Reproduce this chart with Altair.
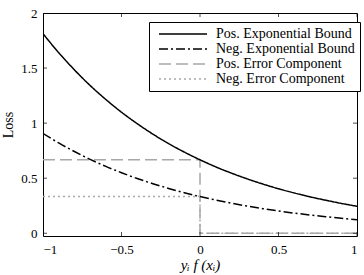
import altair as alt
import pandas as pd

# Margin values y_i f(x_i) and the two exponential loss bounds
margin = [-1.0, -0.9, -0.8, -0.7, -0.6, -0.5, -0.4, -0.3, -0.2, -0.1, 0.0,
          0.1, 0.2, 0.3, 0.4, 0.5, 0.6, 0.7, 0.8, 0.9, 1.0]
pos_bound = [1.812, 1.640, 1.484, 1.342, 1.215, 1.099, 0.995, 0.900, 0.814,
             0.737, 0.667, 0.603, 0.546, 0.494, 0.447, 0.404, 0.366, 0.331,
             0.300, 0.271, 0.245]
neg_bound = [0.906, 0.820, 0.742, 0.671, 0.607, 0.550, 0.497, 0.450, 0.407,
             0.368, 0.333, 0.302, 0.273, 0.247, 0.223, 0.202, 0.183, 0.166,
             0.150, 0.136, 0.123]

# Step-shaped error components
step_x = [-1.0, 0.0, 0.0, 1.0]
pos_error = [0.667, 0.667, 0.0, 0.0]
neg_error = [0.333, 0.333, 0.0, 0.0]

series = ["Pos. Exponential Bound", "Neg. Exponential Bound",
          "Pos. Error Component", "Neg. Error Component"]

x_ticks = [-1, -0.5, 0, 0.5, 1]
y_ticks = [0, 0.5, 1, 1.5, 2]
x_dom = [-1, 1]
y_dom = [-0.025, 2]


def frame(name, xs, ys):
    return pd.DataFrame({"series": name, "m": xs, "loss": ys,
                         "idx": list(range(len(xs)))})


curves = pd.concat([frame(series[0], margin, pos_bound),
                    frame(series[1], margin, neg_bound)])
steps = pd.concat([frame(series[2], step_x, pos_error),
                   frame(series[3], step_x, neg_error)])

FONT = "Liberation Serif"

xs = alt.Scale(domain=x_dom, nice=False, zero=False)
ys = alt.Scale(domain=y_dom, nice=False, zero=False)

enc = dict(
    x=alt.X("m:Q", scale=xs,
            axis=alt.Axis(values=x_ticks, format="~g", ticks=False, domain=False,
                          grid=False, labelFont=FONT, labelFontSize=13,
                          labelColor="black", labelPadding=7,
                          title="yᵢ f (xᵢ)", titleFont=FONT,
                          titleFontSize=15, titleFontWeight="normal",
                          titleFontStyle="italic", titleColor="black",
                          titlePadding=1)),
    y=alt.Y("loss:Q", scale=ys,
            axis=alt.Axis(values=y_ticks, format="~g", ticks=False, domain=False,
                          grid=False, labelFont=FONT, labelFontSize=13,
                          labelColor="black", labelPadding=6,
                          title="Loss", titleFont=FONT, titleFontSize=14,
                          titleFontWeight="normal", titleColor="black",
                          titlePadding=5)),
    color=alt.Color("series:N",
                    scale=alt.Scale(domain=series,
                                    range=["black", "black", "#a8a8a8", "#a8a8a8"]),
                    # a long horizontal stroke as the legend sample
                    legend=alt.Legend(title=None, orient="none", legendX=106,
                                      legendY=9, symbolType="M-6,0H6",
                                      symbolSize=64, symbolStrokeWidth=1.5,
                                      symbolFillColor="transparent",
                                      symbolOffset=22, labelOffset=26,
                                      labelFont=FONT, labelFontSize=14,
                                      labelColor="black", fillColor="white",
                                      strokeColor="black", padding=5,
                                      rowPadding=1)),
    strokeDash=alt.StrokeDash("series:N",
                              scale=alt.Scale(domain=series,
                                              range=[[1, 0], [9, 3, 2, 3],
                                                     [12, 5], [2, 3]])),
    order="idx:Q",
)

curve_lines = alt.Chart(curves).mark_line(
    strokeWidth=1.5, clip=True, interpolate="monotone").encode(**enc)
step_lines = alt.Chart(steps).mark_line(strokeWidth=1.5, clip=True).encode(**enc)

# Inward tick marks on all four sides of the frame
tx = pd.DataFrame({"v": x_ticks})
ty = pd.DataFrame({"v": y_ticks})
tick_style = dict(size=8, thickness=1, color="black", clip=True)
bottom = alt.Chart(tx).mark_tick(orient="vertical", **tick_style).encode(
    x=alt.X("v:Q", scale=xs), y=alt.datum(y_dom[0]))
top = alt.Chart(tx).mark_tick(orient="vertical", **tick_style).encode(
    x=alt.X("v:Q", scale=xs), y=alt.datum(y_dom[1]))
left = alt.Chart(ty).mark_tick(orient="horizontal", **tick_style).encode(
    y=alt.Y("v:Q", scale=ys), x=alt.datum(x_dom[0]))
right = alt.Chart(ty).mark_tick(orient="horizontal", **tick_style).encode(
    y=alt.Y("v:Q", scale=ys), x=alt.datum(x_dom[1]))

chart = alt.layer(step_lines, curve_lines, bottom, top, left, right).properties(
    width=314, height=223,
    autosize=alt.AutoSizeParams(type="none"),
    padding={"left": 43, "top": 13, "right": 7, "bottom": 39},
    background="white",
).configure_view(stroke="black", strokeWidth=1)

chart.save("out.html", embed_options={"renderer": "svg", "actions": False})
